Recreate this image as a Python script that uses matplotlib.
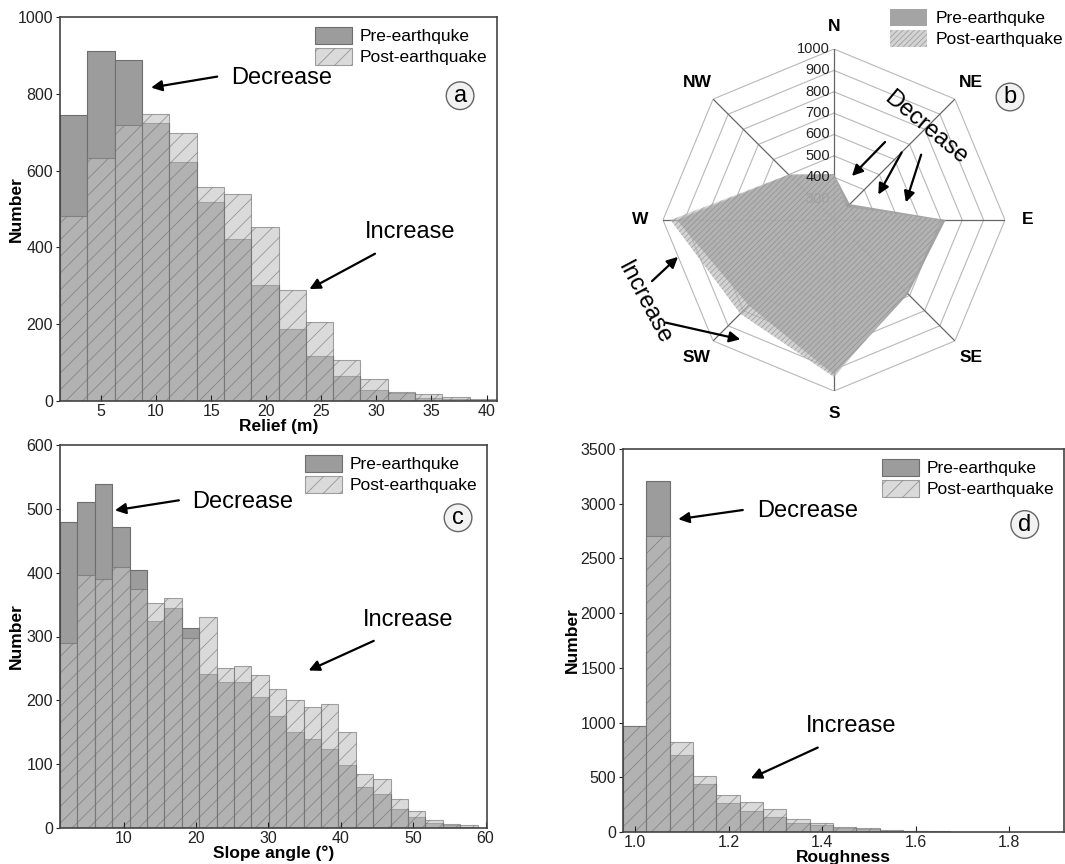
import numpy as np
import matplotlib
matplotlib.use("Agg")
import matplotlib.pyplot as plt
from matplotlib import transforms

plt.rcParams['font.family'] = ['Liberation Sans', 'DejaVu Sans']
plt.rcParams['hatch.linewidth'] = 0.6

# (a) relief histogram, 16 bins
relief_edges = np.linspace(1.28, 40.95, 17)
relief_pre = [745, 911, 889, 725, 622, 517, 422, 303, 187, 118, 66, 28, 20, 8, 5, 3]
relief_post = [481, 633, 718, 748, 699, 557, 538, 453, 290, 205, 108, 56, 24, 17, 10, 4]

# (c) slope angle histogram, 24 bins
slope_edges = np.linspace(1.19, 58.9, 25)
slope_pre = [480, 511, 539, 471, 404, 325, 345, 313, 242, 228, 228, 206, 176, 150,
             140, 124, 99, 65, 53, 29, 17, 8, 4, 2]
slope_post = [290, 396, 390, 409, 375, 353, 361, 298, 331, 251, 254, 239, 217, 200,
              189, 194, 150, 85, 76, 45, 26, 12, 6, 4]

# (d) roughness histogram, 14 bins
rough_edges = np.linspace(0.9736, 1.6736, 15)
rough_pre = [970, 3207, 700, 435, 265, 195, 137, 82, 60, 35, 25, 12, 6, 3]
rough_post = [965, 2702, 825, 512, 338, 274, 210, 119, 85, 46, 35, 20, 10, 5]

# (b) aspect radar
directions = ['N', 'NE', 'E', 'SE', 'S', 'SW', 'W', 'NW']
aspect_pre = [415, 305, 722, 690, 925, 765, 935, 500]
aspect_post = [410, 285, 705, 680, 935, 820, 965, 500]
ring_values = [200, 300, 400, 500, 600, 700, 800, 900, 1000]

labels = ['Pre-earthquke', 'Post-earthquake']

pre_style = dict(color='#9c9c9c', edgecolor='#6e6e6e', linewidth=0.8)
post_style = dict(facecolor='#c2c2c2', alpha=0.6, edgecolor='#6a6a6a', hatch='//', linewidth=0.8)
leg_kw = dict(frameon=False, fontsize=12.5, handlelength=2.15, handleheight=1.15,
              handletextpad=0.45, labelspacing=0.2)

fig = plt.figure(figsize=(10.65, 8.64), dpi=100)


def px(x0, y0, x1, y1):
    # figure rect from pixel box (top-left origin)
    W, H = 1065, 864
    return [x0 / W, 1 - y1 / H, (x1 - x0) / W, (y1 - y0) / H]


def hist_panel(rect, edges, pre, post, xlim, ylim, xticks, yticks, xlabel, letter,
               dec, inc, letter_xy, ylab_x, xfmt=None):
    ax = fig.add_axes(rect)
    edges = np.asarray(edges)
    w = np.diff(edges)
    ax.bar(edges[:-1], pre, width=w, align='edge', label=labels[0], **pre_style)
    ax.bar(edges[:-1], post, width=w, align='edge', label=labels[1], **post_style)
    ax.set_xlim(*xlim)
    ax.set_ylim(*ylim)
    ax.set_xticks(xticks)
    if xfmt:
        ax.set_xticklabels([xfmt.format(t) for t in xticks])
    ax.set_yticks(yticks)
    ax.tick_params(axis='x', direction='in', length=4, labelsize=11.5, pad=2, colors='#222')
    ax.tick_params(axis='y', direction='out', length=3, labelsize=11.5, pad=2, colors='#222')
    for s in ax.spines.values():
        s.set_color('#444')
        s.set_linewidth(1.2)
    ax.set_xlabel(xlabel, fontsize=12.5, fontweight='bold', labelpad=0)
    ax.set_ylabel('Number', fontsize=12.5, fontweight='bold')
    ax.yaxis.set_label_coords(ylab_x, 0.5)
    ax.legend(loc='upper right', borderaxespad=0.25, borderpad=0.3, **leg_kw)
    (dt, dtail, dhead) = dec
    ax.text(dt[0], dt[1], 'Decrease', fontsize=17, ha='left', va='center')
    ax.annotate('', xy=dhead, xytext=dtail,
                arrowprops=dict(arrowstyle='-|>', color='black', lw=1.6, mutation_scale=16))
    (it, itail, ihead) = inc
    ax.text(it[0], it[1], 'Increase', fontsize=17, ha='left', va='center')
    ax.annotate('', xy=ihead, xytext=itail,
                arrowprops=dict(arrowstyle='-|>', color='black', lw=1.6, mutation_scale=16))
    ax.text(letter_xy[0], letter_xy[1], letter, fontsize=17, ha='center', va='center',
            bbox=dict(boxstyle='circle,pad=0.12', fc='#f2f2f2', ec='#666666', lw=1.0))
    return ax


hist_panel(px(60, 17, 497, 401), relief_edges, relief_pre, relief_post,
           (1.28, 40.95), (0, 1000), [5, 10, 15, 20, 25, 30, 35, 40],
           [0, 200, 400, 600, 800, 1000], 'Relief (m)', 'a',
           ((16.8, 841), (15.8, 846), (9.3, 815)),
           ((29.0, 441), (30.1, 387), (23.7, 288)),
           (37.6, 795), -0.082)

hist_panel(px(60, 445, 487, 828), slope_edges, slope_pre, slope_post,
           (1.19, 60.2), (0, 600), [10, 20, 30, 40, 50, 60],
           [0, 100, 200, 300, 400, 500, 600], 'Slope angle (°)', 'c',
           ((19.5, 511), (18.0, 514), (8.4, 497)),
           ((43.0, 326), (44.9, 295), (35.2, 245)),
           (56.2, 486), -0.084)

hist_panel(px(623, 449, 1064, 832), rough_edges, rough_pre, rough_post,
           (0.9736, 1.918), (0, 3500), [1.0, 1.2, 1.4, 1.6, 1.8],
           [0, 500, 1000, 1500, 2000, 2500, 3000, 3500], 'Roughness', 'd',
           ((1.261, 2937), (1.236, 2946), (1.086, 2855)),
           ((1.366, 973), (1.396, 782), (1.242, 480)),
           (1.834, 2810), -0.098, xfmt='{:.1f}')

# (b) radar chart
axb = fig.add_axes(px(663, 49, 1005, 391), projection='polar')
axb.set_theta_zero_location('N')
axb.set_theta_direction(-1)
theta = np.deg2rad(np.arange(0, 360, 45))
theta_c = np.append(theta, theta[0])
axb.set_ylim(ring_values[0], ring_values[-1])
axb.grid(False)
axb.spines['polar'].set_visible(False)
axb.set_yticks([])
axb.patch.set_alpha(0)

for r in ring_values[1:]:
    axb.plot(theta_c, [r] * len(theta_c), color='#b8b8b8', lw=0.8, zorder=1)
for t in theta:
    axb.plot([t, t], [ring_values[0], ring_values[-1]], color='#666666', lw=0.9, zorder=1)

pre_vals = np.append(aspect_pre, aspect_pre[0])
post_vals = np.append(aspect_post, aspect_post[0])
axb.fill(theta_c, pre_vals, color='#9a9a9a', alpha=0.9, lw=0, zorder=2, label=labels[0])
axb.fill(theta_c, post_vals, facecolor='#bcbcbc', alpha=0.65, edgecolor='#858585',
         hatch='//////', lw=0, zorder=3, label=labels[1])

lab_tr = transforms.offset_copy(axb.transData, fig=fig, x=-3, y=0, units='points')
for r in ring_values[1:]:
    c = '#222222' if r >= 400 else '#a0a0a0'
    axb.text(0, r, str(r), transform=lab_tr, ha='right', va='center', fontsize=10.5,
             color=c, zorder=4)

axb.set_xticks(theta)
axb.set_xticklabels(directions, fontsize=12.5, fontweight='bold')
axb.tick_params(axis='x', pad=6)

axb.legend(loc='upper left', bbox_to_anchor=(890 / 1065, 1 - 9 / 864),
           bbox_transform=fig.transFigure, borderaxespad=0, borderpad=0, **leg_kw)


def ff(x, y):
    return (x / 1065, 1 - y / 864)


fig.text(*ff(926, 128), 'Decrease', fontsize=17, rotation=-40, ha='center', va='center')
for tail, head in [((887, 140), (850, 178)), ((903, 150), (877, 197)), ((922, 152), (905, 205))]:
    fig.add_artist(matplotlib.patches.FancyArrowPatch(
        ff(*tail), ff(*head), transform=fig.transFigure, arrowstyle='-|>',
        color='black', lw=1.6, mutation_scale=16))
fig.text(*ff(644, 303), 'Increase', fontsize=17, rotation=-62, ha='center', va='center')
for tail, head in [((650, 283), (680, 255)), ((663, 322), (743, 340))]:
    fig.add_artist(matplotlib.patches.FancyArrowPatch(
        ff(*tail), ff(*head), transform=fig.transFigure, arrowstyle='-|>',
        color='black', lw=1.6, mutation_scale=16))
fig.text(*ff(1010, 97), 'b', fontsize=17, ha='center', va='center',
         bbox=dict(boxstyle='circle,pad=0.12', fc='#f2f2f2', ec='#666666', lw=1.0))

fig.savefig('out.png', dpi=100)
